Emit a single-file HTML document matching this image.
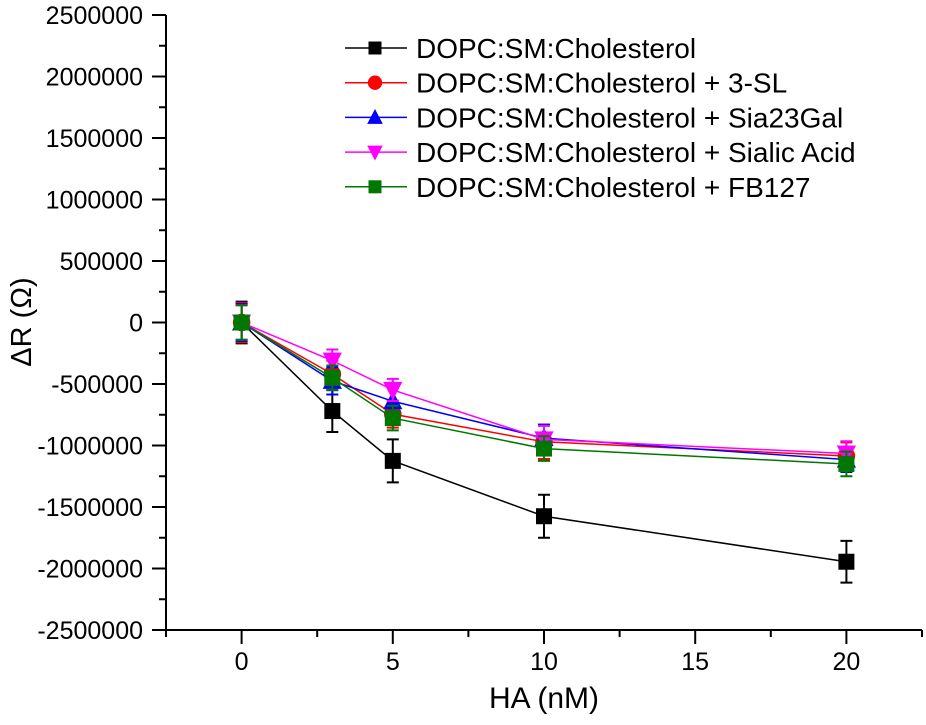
<!DOCTYPE html>
<html><head><meta charset="utf-8"><style>
html,body{margin:0;padding:0;background:#fff;}
svg{display:block;font-family:"Liberation Sans",Arial,sans-serif;}
</style></head><body>
<svg id="chart" width="926" height="725"></svg>
<script>
const xValues=[0,3,5,10,20];
const seriesNames=["DOPC:SM:Cholesterol","DOPC:SM:Cholesterol + 3-SL","DOPC:SM:Cholesterol + Sia23Gal","DOPC:SM:Cholesterol + Sialic Acid","DOPC:SM:Cholesterol + FB127"];
const sBlack=[0,-720000,-1125000,-1575000,-1945000];
const sRed=[0,-420000,-745000,-970000,-1085000];
const sBlue=[0,-475000,-640000,-940000,-1115000];
const sMagenta=[0,-310000,-548000,-950000,-1065000];
const sGreen=[0,-450000,-777000,-1025000,-1150000];
const errBlack=[170000,170000,175000,175000,170000];
const errRed=[160000,110000,110000,140000,110000];
const errBlue=[150000,110000,110000,110000,100000];
const errMagenta=[140000,90000,90000,110000,100000];
const errGreen=[140000,100000,100000,100000,100000];
const yTicks=[2500000,2000000,1500000,1000000,500000,0,-500000,-1000000,-1500000,-2000000,-2500000];
const xTicks=[0,5,10,15,20];
const colors=["#000000","#ff0000","#0000ff","#ff00ff","#007700"];
const markers=["square","circle","up","down","square"];
const series=[sBlack,sRed,sBlue,sMagenta,sGreen];
const errs=[errBlack,errRed,errBlue,errMagenta,errGreen];

const L=166,R=922,T=15,B=630;
const xMin=-2.5,xMax=22.5,yMin=-2500000,yMax=2500000;
const X=v=>L+(v-xMin)/(xMax-xMin)*(R-L);
const Y=v=>B-(v-yMin)/(yMax-yMin)*(B-T);
const svg=document.getElementById('chart');
const NS='http://www.w3.org/2000/svg';
function mk(tag,attrs,parent){const e=document.createElementNS(NS,tag);for(const k in attrs)e.setAttribute(k,attrs[k]);(parent||svg).appendChild(e);return e;}

let ax=mk('path',{d:`M${L},${T} L${L},${B} L${R},${B}`,stroke:'#000','stroke-width':2,fill:'none'});


yTicks.forEach((t,i)=>{
  const y=Y(t);
  mk('line',{x1:L-14,x2:L,y1:y,y2:y,stroke:'#000','stroke-width':2});
  if(i<yTicks.length-1){const ym=Y(t-250000);mk('line',{x1:L-7,x2:L,y1:ym,y2:ym,stroke:'#000','stroke-width':2});}
  const tx=mk('text',{x:143,y:y+9,'text-anchor':'end','font-size':25});
  tx.textContent=t;
  
  
});
for(let v=-2.5;v<=22.5;v+=2.5){
  const x=X(v);const major=Math.abs(v%5)<1e-9;
  mk('line',{x1:x,x2:x,y1:B,y2:B+(major?14:7),stroke:'#000','stroke-width':2});
}
xTicks.forEach(t=>{
  const tx=mk('text',{x:X(t),y:670,'text-anchor':'middle','font-size':25});
  tx.textContent=t;
  
  
});
let xt=mk('text',{x:544,y:708,'text-anchor':'middle','font-size':30});
xt.textContent='HA (nM)';


let yt=mk('text',{x:0,y:0,'text-anchor':'middle','font-size':29,transform:'translate(31,322) rotate(-90)'});
yt.textContent='ΔR (Ω)';



function marker(type,cx,cy,c,s,parent){
  if(type==='square')return mk('rect',{x:cx-s,y:cy-s,width:2*s,height:2*s,fill:c},parent);
  if(type==='circle')return mk('circle',{cx,cy,r:s*1.1,fill:c},parent);
  if(type==='up')return mk('polygon',{points:`${cx-s*1.2},${cy+s} ${cx+s*1.2},${cy+s} ${cx},${cy-s*1.3}`,fill:c},parent);
  return mk('polygon',{points:`${cx-s*1.2},${cy-s} ${cx+s*1.2},${cy-s} ${cx},${cy+s*1.3}`,fill:c},parent);
}
series.forEach((s,si)=>{
  const g=mk('g',{});
  
  
  const c=colors[si];
  mk('polyline',{points:s.map((v,i)=>X(xValues[i])+','+Y(v)).join(' '),fill:'none',stroke:c,'stroke-width':1.5},g);
  s.forEach((v,i)=>{
    const x=X(xValues[i]),e=errs[si][i];
    mk('path',{d:`M${x},${Y(v+e)} L${x},${Y(v-e)} M${x-6},${Y(v+e)} L${x+6},${Y(v+e)} M${x-6},${Y(v-e)} L${x+6},${Y(v-e)}`,stroke:c,'stroke-width':2,fill:'none'},g);
    const m=marker(markers[si],x,Y(v),c,8,g);
    
    
  });
});
const lg=mk('g',{});


seriesNames.forEach((n,i)=>{
  const y=48+34.7*i;
  const e=mk('g',{},lg);
  
  
  mk('line',{x1:345,x2:407,y1:y,y2:y,stroke:colors[i],'stroke-width':1.5},e);
  marker(markers[i],375,y,colors[i],6.5,e);
  const t=mk('text',{x:416,y:y+10,'font-size':28},e);
  t.textContent=n;
});
</script>
</body></html>
